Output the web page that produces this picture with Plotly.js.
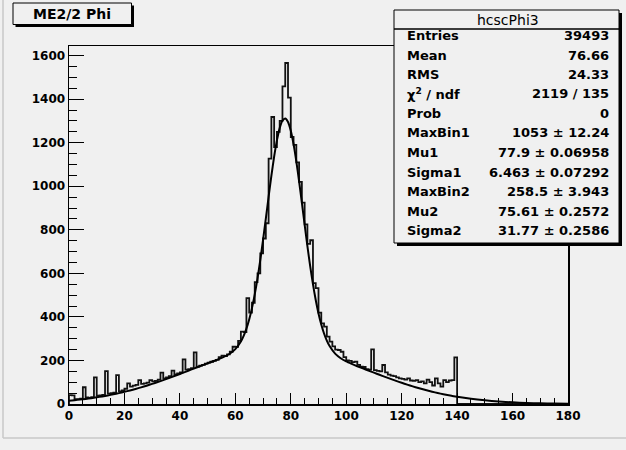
<!DOCTYPE html>
<html>
<head>
<meta charset="utf-8">
<script src="https://cdn.plot.ly/plotly-3.0.1.min.js"></script>
<style>
html,body{margin:0;padding:0;background:#f0f0f0;}
#chart{width:626px;height:450px;}
</style>
</head>
<body>
<div id="chart"></div>
<script>
// ---- data ----
const histTitle = "ME2/2 Phi";
const histName = "hcscPhi3";
const binWidth = 1;
const xMin = 0;
const xMax = 180;
// bin contents, bins [0,1) ... [139,140); bins 140-179 are empty
const counts = [
  41, 40, 22, 22, 25, 77, 30, 28, 32, 122,
  38, 40, 42, 151, 48, 50, 52, 133, 58, 62,
  70, 95, 80, 84, 88, 110, 92, 95, 98, 110,
  104, 106, 112, 144, 118, 122, 128, 153, 136, 140,
  145, 205, 158, 160, 165, 237, 172, 176, 180, 185,
  190, 194, 198, 203, 215, 222, 220, 228, 240, 263,
  262, 290, 332, 330, 486, 420, 465, 560, 600, 692,
  760, 830, 1127, 1318, 1180, 1250, 1300, 1459, 1566, 1407,
  1226, 1190, 1110, 1020, 925, 825, 735, 752, 555, 532,
  420, 370, 355, 309, 286, 265, 250, 248, 240, 215,
  200, 198, 192, 195, 180, 172, 170, 160, 158, 251,
  156, 152, 150, 179, 145, 135, 130, 128, 122, 118,
  115, 112, 118, 108, 106, 110, 100, 104, 95, 112,
  100, 85, 118, 95, 80, 110, 100, 108, 110, 214
];
// fitted double-gaussian curve, as drawn
const curveX = [0,2,4,6,8,10,12,14,16,18,20,22,24,26,28,30,32,34,36,38,40,42,44,46,48,50,52,54,56,58,60,62,63,64,65,66,67,68,69,70,71,72,73,74,75,76,77,78,79,80,81,82,83,84,85,86,87,88,89,90,91,92,93,94,96,98,100,102,104,106,108,110,112,114,116,118,120,122,124,126,128,130,132,134,136,138,140,145,150,155,160,165,170,175,180];
const curveY = [15.2,17.7,20.4,23.4,26.9,30.6,34.8,39.4,44.5,49.9,55.9,62.2,69.1,76.4,84.1,92.2,100.8,109.6,118.8,128.3,137.9,147.7,157.6,167.4,177.2,186.8,196.1,206.2,217.1,230.9,251.8,286.9,312.7,346.0,388.1,440.3,503.2,577.0,660.9,753.4,851.4,950.9,1047.6,1135.9,1210.6,1267.0,1301.1,1310.7,1294.9,1254.9,1193.3,1114.3,1022.9,924.2,823.4,725.2,633.2,550.1,477.4,415.9,364.9,323.8,291.3,265.9,231.3,210.1,195.5,184.1,173.4,163.6,153.7,143.9,134.1,124.6,115.2,106.1,97.4,89.0,81.0,73.5,66.4,59.7,53.5,47.7,42.4,37.6,33.1,23.8,16.7,11.4,7.6,4.9,3.1,1.9,1.2];
// axis tick labels
const xTickVals = [0, 20, 40, 60, 80, 100, 120, 140, 160, 180];
const yTickVals = [0, 200, 400, 600, 800, 1000, 1200, 1400, 1600];
// statistics box
const statNames = ["Entries","Mean","RMS","χ<sup>2</sup> / ndf","Prob","MaxBin1","Mu1","Sigma1","MaxBin2","Mu2","Sigma2"];
const statValues = ["39493","76.66","24.33","2119 / 135","0","1053 ± 12.24","77.9 ± 0.06958","6.463 ± 0.07292","258.5 ± 3.943","75.61 ± 0.2572","31.77 ± 0.2586"];
const yMax = 1644;

// ---- geometry ----
const L = 69, T = 46, W = 499, H = 358;
const px = x => (x - L) / W;
const py = y => 1 - (y - T) / H;

// histogram step outline
const hx = [xMin], hy = [0];
counts.forEach((c, i) => { hx.push(xMin + i * binWidth); hy.push(c); });
hx.push(xMin + counts.length * binWidth); hy.push(0);
hx.push(xMax); hy.push(0);

const FONT = "DejaVu Sans, Verdana, sans-serif";

const traces = [
  {x: hx, y: hy, type: "scatter", mode: "lines", line: {shape: "hv", color: "#111", width: 1.8}, hoverinfo: "skip"},
  {x: curveX, y: curveY, type: "scatter", mode: "lines", line: {shape: "spline", smoothing: 0.6, color: "#000", width: 2}, hoverinfo: "skip"}
];

const shapes = [];
const annotations = [];
function rect(x0, y0, x1, y1, fill, lw) {
  shapes.push({type: "rect", xref: "paper", yref: "paper", x0: px(x0), x1: px(x1), y0: py(y1), y1: py(y0),
    fillcolor: fill, line: {color: "#000", width: lw}, layer: "above"});
}
// canvas edges
shapes.push({type: "line", xref: "paper", yref: "paper", x0: px(3), x1: px(3), y0: py(0), y1: py(438), line: {color: "#c8c8c8", width: 1.5}, layer: "below"});
shapes.push({type: "line", xref: "paper", yref: "paper", x0: px(3), x1: px(626), y0: py(438), y1: py(438), line: {color: "#c8c8c8", width: 1.5}, layer: "below"});
// title box
rect(15.5, 5.5, 134, 27, "#000", 0);
rect(13, 3, 131.5, 24.5, "#f0f0f0", 1);
annotations.push({xref: "paper", yref: "paper", x: px(72), y: py(14), text: "<b>" + histTitle + "</b>", showarrow: false,
  xanchor: "center", yanchor: "middle", font: {family: FONT, size: 14, color: "#000"}});
// stats box
rect(397, 13, 622, 246, "#000", 0);
rect(394, 10, 619, 243, "#f0f0f0", 1);
shapes.push({type: "line", xref: "paper", yref: "paper", x0: px(394), x1: px(619), y0: py(29), y1: py(29), line: {color: "#000", width: 1.5}, layer: "above"});
annotations.push({xref: "paper", yref: "paper", x: px(508), y: py(19.5), text: histName, showarrow: false,
  xanchor: "center", yanchor: "middle", font: {family: FONT, size: 14, color: "#000"}});
statNames.forEach((n, i) => {
  const yc = 35.5 + i * 19.5;
  annotations.push({xref: "paper", yref: "paper", x: px(405), y: py(yc), text: "<b>" + n + "</b>", showarrow: false,
    xanchor: "left", yanchor: "middle", font: {family: FONT, size: 13, color: "#000"}});
  annotations.push({xref: "paper", yref: "paper", x: px(611), y: py(yc), text: "<b>" + statValues[i] + "</b>", showarrow: false,
    xanchor: "right", yanchor: "middle", font: {family: FONT, size: 13, color: "#000"}});
});

const tickFont = {family: FONT, size: 12, color: "#000", weight: 700};
const layout = {
  width: 626, height: 450,
  margin: {l: L, r: 626 - L - W, t: T, b: 450 - T - H, pad: 0},
  paper_bgcolor: "#f0f0f0", plot_bgcolor: "#f0f0f0",
  showlegend: false,
  xaxis: {range: [xMin, xMax], tickmode: "array", tickvals: xTickVals, ticktext: xTickVals.map(v => "<b>" + v + "</b>"),
    ticks: "inside", ticklen: 11, tickwidth: 1, tickcolor: "#000",
    showline: true, linecolor: "#000", linewidth: 1.5, mirror: true, showgrid: false, zeroline: false,
    minor: {tick0: 0, dtick: 5, ticks: "inside", ticklen: 6, tickwidth: 1, tickcolor: "#000", showgrid: false},
    tickfont: tickFont, fixedrange: true},
  yaxis: {range: [0, yMax], tickmode: "array", tickvals: yTickVals, ticktext: yTickVals.map(v => "<b>" + v + "</b>"),
    ticks: "inside", ticklen: 15, tickwidth: 1, tickcolor: "#000",
    showline: true, linecolor: "#000", linewidth: 1.5, mirror: true, showgrid: false, zeroline: false,
    minor: {tick0: 0, dtick: 50, ticks: "inside", ticklen: 8, tickwidth: 1, tickcolor: "#000", showgrid: false},
    tickfont: tickFont, fixedrange: true},
  shapes: shapes,
  annotations: annotations
};
Plotly.newPlot("chart", traces, layout, {staticPlot: true, displayModeBar: false});
</script>
</body>
</html>
